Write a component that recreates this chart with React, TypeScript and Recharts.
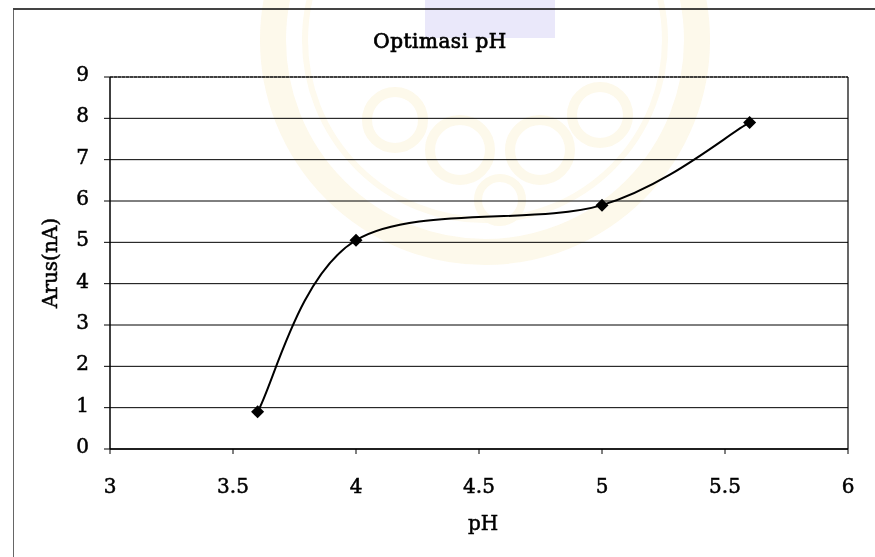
import React from 'react';
import {
  LineChart,
  Line,
  XAxis,
  YAxis,
  CartesianGrid,
  ReferenceLine,
} from 'recharts';

// pH sweep and measured current (nA)
const phValues = [3.6, 4.0, 5.0, 5.6];
const currentNA = [0.9, 5.05, 5.9, 7.9];

const xTicks = [3, 3.5, 4, 4.5, 5, 5.5, 6];
const yTicks = [0, 1, 2, 3, 4, 5, 6, 7, 8, 9];

const chartData = phValues.map((ph, i) => ({ ph, arus: currentNA[i] }));

const FONT = '"DejaVu Serif", "Liberation Serif", serif';
const INK = '#000';

// Catmull-Rom style bezier smoothing, the way spreadsheet "smoothed line" charts draw it
const smoothCurve = (context: any) => {
  let pts: [number, number][] = [];
  return {
    areaStart() {},
    areaEnd() {},
    lineStart() {
      pts = [];
    },
    point(x: number, y: number) {
      pts.push([+x, +y]);
    },
    lineEnd() {
      if (!pts.length) return;
      context.moveTo(pts[0][0], pts[0][1]);
      for (let i = 0; i < pts.length - 1; i++) {
        const p0 = pts[Math.max(i - 1, 0)];
        const p1 = pts[i];
        const p2 = pts[i + 1];
        const p3 = pts[Math.min(i + 2, pts.length - 1)];
        context.bezierCurveTo(
          p1[0] + (p2[0] - p0[0]) / 6,
          p1[1] + (p2[1] - p0[1]) / 6,
          p2[0] - (p3[0] - p1[0]) / 6,
          p2[1] - (p3[1] - p1[1]) / 6,
          p2[0],
          p2[1]
        );
      }
    },
  };
};

const Diamond = (props: any) => {
  const { cx, cy, index } = props;
  if (cx == null || cy == null) return null;
  const r = 6.5;
  return (
    <polygon
      key={`d-${index}`}
      points={`${cx},${cy - r} ${cx + r},${cy} ${cx},${cy + r} ${cx - r},${cy}`}
      fill="#000"
    />
  );
};

const labelStyle = { stroke: INK, strokeWidth: 0.5 };

const XTick = ({ x, y, payload }: any) => (
  <text x={x} y={y + 37} textAnchor="middle" fontFamily={FONT} fontSize={20} fill={INK} style={labelStyle}>
    {payload.value}
  </text>
);

const YTick = ({ x, y, payload }: any) => (
  <text x={x} y={y + 4} textAnchor="end" fontFamily={FONT} fontSize={20} fill={INK} style={labelStyle}>
    {payload.value}
  </text>
);

// faint emblem printed behind the page
const Watermark = () => (
  <svg
    width={875}
    height={557}
    style={{ position: 'absolute', left: 0, top: 0, pointerEvents: 'none', mixBlendMode: 'multiply' }}
  >
    <g opacity={0.09}>
      <circle cx={485} cy={40} r={212} fill="none" stroke="#e8b820" strokeWidth={26} />
      <circle cx={485} cy={40} r={180} fill="none" stroke="#ecc640" strokeWidth={6} />
      <circle cx={395} cy={120} r={28} fill="none" stroke="#e8b820" strokeWidth={10} />
      <circle cx={460} cy={150} r={30} fill="none" stroke="#e8b820" strokeWidth={10} />
      <circle cx={540} cy={150} r={30} fill="none" stroke="#e8b820" strokeWidth={10} />
      <circle cx={600} cy={115} r={28} fill="none" stroke="#e8b820" strokeWidth={10} />
      <circle cx={500} cy={200} r={22} fill="none" stroke="#e8b820" strokeWidth={8} />
    </g>
    <rect x={425} y={0} width={130} height={38} fill="#b8b4ee" opacity={0.3} />
  </svg>
);

export default function App() {
  return (
    <div
      style={{
        position: 'absolute',
        left: 0,
        top: 0,
        width: 875,
        height: 557,
        background: '#fff',
        overflow: 'hidden',
      }}
    >
      <LineChart
        width={875}
        height={557}
        data={chartData}
        margin={{ top: 77, right: 27, left: 0, bottom: 0 }}
      >
        <CartesianGrid horizontal vertical={false} stroke={INK} strokeWidth={1} />
        <XAxis
          dataKey="ph"
          type="number"
          domain={[3, 6]}
          ticks={xTicks}
          interval={0}
          height={108}
          axisLine={{ stroke: INK, strokeWidth: 1.5 }}
          tickLine={{ stroke: INK }}
          tickSize={5}
          tick={<XTick />}
        />
        <YAxis
          type="number"
          domain={[0, 9]}
          ticks={yTicks}
          interval={0}
          width={110}
          axisLine={{ stroke: INK, strokeWidth: 1.5 }}
          tickLine={{ stroke: INK }}
          tickSize={6}
          tickMargin={15}
          tick={<YTick />}
        />
        <ReferenceLine x={6} stroke={INK} strokeWidth={1.2} />
        <ReferenceLine y={9} stroke={INK} strokeWidth={1} strokeDasharray="3 1" />
        <Line
          dataKey="arus"
          type={smoothCurve as any}
          stroke="#000"
          strokeWidth={2}
          dot={<Diamond />}
          activeDot={false}
          isAnimationActive={false}
        />
        <text
          x={440}
          y={48}
          textAnchor="middle"
          fontFamily={FONT}
          fontSize={20}
          fill={INK}
          style={{ stroke: INK, strokeWidth: 0.7, letterSpacing: 0.5 }}
        >
          Optimasi pH
        </text>
        <text x={483} y={530} textAnchor="middle" fontFamily={FONT} fontSize={20} fill={INK} style={labelStyle}>
          pH
        </text>
        <text
          x={50}
          y={263}
          textAnchor="middle"
          dominantBaseline="central"
          fontFamily={FONT}
          fontSize={20}
          fill={INK}
          style={labelStyle}
          transform="rotate(-90 50 263)"
        >
          Arus(nA)
        </text>
      </LineChart>
      {/* outer frame: left edge and top edge */}
      <div style={{ position: 'absolute', left: 13, top: 8, width: 1, height: 549, background: '#666' }} />
      <div style={{ position: 'absolute', left: 13, top: 8, width: 862, height: 1.5, background: '#444' }} />
      <Watermark />
    </div>
  );
}
